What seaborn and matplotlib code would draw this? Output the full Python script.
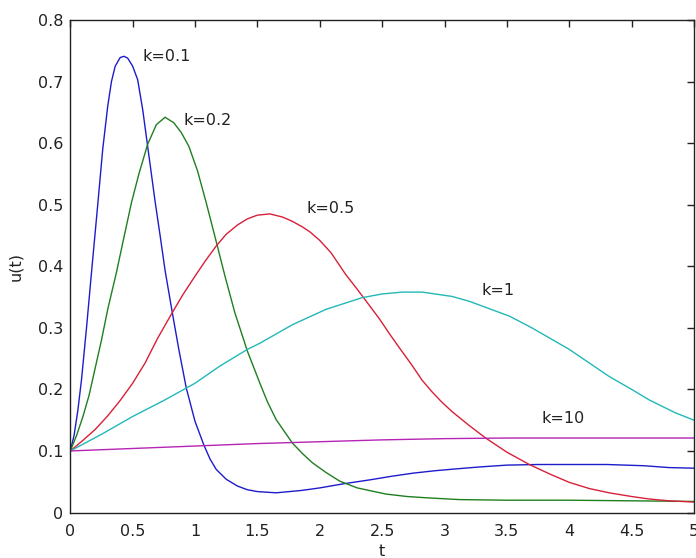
import matplotlib
matplotlib.use("Agg")
import matplotlib.pyplot as plt
import numpy as np
import pandas as pd
import seaborn as sns

# ---- data ----
k_names = ["k=0.1", "k=0.2", "k=0.5", "k=1", "k=10"]

t_k01 = [0, 0.03, 0.06, 0.09, 0.13, 0.17, 0.22, 0.26, 0.30, 0.33, 0.36, 0.40, 0.43, 0.46,
         0.50, 0.54, 0.58, 0.61, 0.65, 0.68, 0.72, 0.76, 0.82, 0.87, 0.93, 1.00, 1.07, 1.12,
         1.17, 1.25, 1.34, 1.42, 1.50, 1.65, 1.86, 2.00, 2.20, 2.40, 2.58, 2.75, 2.93, 3.10,
         3.28, 3.50, 3.75, 4.00, 4.30, 4.60, 4.80, 5.00]
u_k01 = [0.100, 0.125, 0.165, 0.216, 0.300, 0.390, 0.500, 0.590, 0.660, 0.700, 0.725, 0.739, 0.741, 0.738,
         0.725, 0.703, 0.655, 0.610, 0.550, 0.505, 0.450, 0.393, 0.322, 0.265, 0.202, 0.148, 0.110, 0.087,
         0.070, 0.054, 0.043, 0.037, 0.034, 0.032, 0.036, 0.040, 0.047, 0.053, 0.059, 0.064, 0.068, 0.071,
         0.074, 0.077, 0.078, 0.078, 0.078, 0.076, 0.073, 0.072]

t_k02 = [0, 0.05, 0.10, 0.15, 0.20, 0.25, 0.30, 0.37, 0.43, 0.49, 0.55, 0.62, 0.69, 0.76,
         0.83, 0.89, 0.95, 1.02, 1.09, 1.17, 1.24, 1.32, 1.42, 1.52, 1.58, 1.65, 1.78, 1.86,
         1.94, 2.05, 2.16, 2.30, 2.53, 2.70, 2.85, 3.12, 3.50, 4.00, 4.50, 5.00]
u_k02 = [0.100, 0.125, 0.155, 0.190, 0.235, 0.280, 0.330, 0.390, 0.447, 0.503, 0.550, 0.598, 0.630, 0.642,
         0.633, 0.617, 0.595, 0.555, 0.503, 0.440, 0.384, 0.324, 0.262, 0.210, 0.180, 0.151, 0.113, 0.096,
         0.081, 0.065, 0.051, 0.040, 0.030, 0.026, 0.024, 0.021, 0.020, 0.020, 0.019, 0.018]

t_k05 = [0, 0.10, 0.20, 0.30, 0.40, 0.50, 0.60, 0.70, 0.81, 0.90, 1.00, 1.08, 1.17, 1.25,
         1.34, 1.42, 1.50, 1.60, 1.70, 1.78, 1.86, 1.92, 2.00, 2.09, 2.15, 2.21, 2.28, 2.34,
         2.41, 2.48, 2.56, 2.64, 2.74, 2.82, 2.90, 2.98, 3.06, 3.20, 3.33, 3.50, 3.68, 3.85,
         4.00, 4.16, 4.32, 4.50, 4.64, 4.80, 5.00]
u_k05 = [0.100, 0.117, 0.135, 0.157, 0.182, 0.210, 0.243, 0.283, 0.322, 0.353, 0.384, 0.408, 0.433, 0.452,
         0.467, 0.477, 0.483, 0.485, 0.480, 0.473, 0.464, 0.456, 0.442, 0.422, 0.404, 0.386, 0.368, 0.352,
         0.333, 0.314, 0.290, 0.267, 0.239, 0.215, 0.196, 0.179, 0.164, 0.141, 0.121, 0.098, 0.078, 0.062,
         0.049, 0.039, 0.032, 0.026, 0.022, 0.019, 0.017]

t_k1 = [0, 0.25, 0.50, 0.75, 1.00, 1.20, 1.42, 1.52, 1.78, 2.05, 2.34, 2.50, 2.66, 2.82,
        3.06, 3.20, 3.40, 3.52, 3.70, 4.00, 4.16, 4.32, 4.50, 4.64, 4.85, 5.00]
u_k1 = [0.100, 0.127, 0.156, 0.182, 0.210, 0.238, 0.265, 0.275, 0.305, 0.330, 0.349, 0.355, 0.358, 0.358,
        0.351, 0.343, 0.328, 0.319, 0.300, 0.265, 0.243, 0.221, 0.200, 0.183, 0.162, 0.150]

t_k10 = [0, 0.5, 1, 1.5, 2, 2.5, 3, 3.5, 4, 4.5, 5]
u_k10 = [0.100, 0.104, 0.108, 0.112, 0.115, 0.118, 0.120, 0.121, 0.121, 0.121, 0.121]

label_t = [0.58, 0.91, 1.89, 3.30, 3.78]
label_u = [0.740, 0.636, 0.493, 0.361, 0.152]

x_ticks = [0, 0.5, 1, 1.5, 2, 2.5, 3, 3.5, 4, 4.5, 5]
x_tick_labels = ["0", "0.5", "1", "1.5", "2", "2.5", "3", "3.5", "4", "4.5", "5"]
y_ticks = [0, 0.1, 0.2, 0.3, 0.4, 0.5, 0.6, 0.7, 0.8]
y_tick_labels = ["0", "0.1", "0.2", "0.3", "0.4", "0.5", "0.6", "0.7", "0.8"]

colors = ["#1c1ccc", "#1f7f1f", "#d82038", "#22b8b8", "#b624b6"]

series_t = [t_k01, t_k02, t_k05, t_k1, t_k10]
series_u = [u_k01, u_k02, u_k05, u_k1, u_k10]
frames = [pd.DataFrame({"t": t, "u": u, "k": name})
          for t, u, name in zip(series_t, series_u, k_names)]
df = pd.concat(frames, ignore_index=True)

sns.set_style("white")
plt.rcParams["font.family"] = ["DejaVu Sans"]

fig = plt.figure(figsize=(6.96, 5.58), dpi=100)
ax = fig.add_axes([0.101, 0.0815, 0.8961, 0.8827])

sns.lineplot(data=df, x="t", y="u", hue="k", hue_order=k_names,
             palette=dict(zip(k_names, colors)), estimator=None, sort=True,
             linewidth=1.0, legend=False, ax=ax)

for name, tx, uy in zip(k_names, label_t, label_u):
    ax.text(tx, uy, name, ha="left", va="center", fontsize=11.5, color="#222222")

ax.set_xlim(0, 5)
ax.set_ylim(0, 0.8)
ax.set_xticks(x_ticks)
ax.set_xticklabels(x_tick_labels)
ax.set_yticks(y_ticks)
ax.set_yticklabels(y_tick_labels)
ax.tick_params(direction="in", top=True, right=True, length=5, width=1,
               labelsize=11.5, colors="#222222")
ax.tick_params(axis="x", pad=8)
ax.tick_params(axis="y", pad=5)
for s in ax.spines.values():
    s.set_color("#222222")
    s.set_linewidth(1.0)

ax.set_xlabel("t", fontsize=11.5, color="#222222")
ax.set_ylabel("u(t)", fontsize=11.5, color="#222222")
ax.xaxis.set_label_coords(0.5, -0.064)
ax.yaxis.set_label_coords(-0.075, 0.5)

fig.savefig("out.png", dpi=100, facecolor="white")
